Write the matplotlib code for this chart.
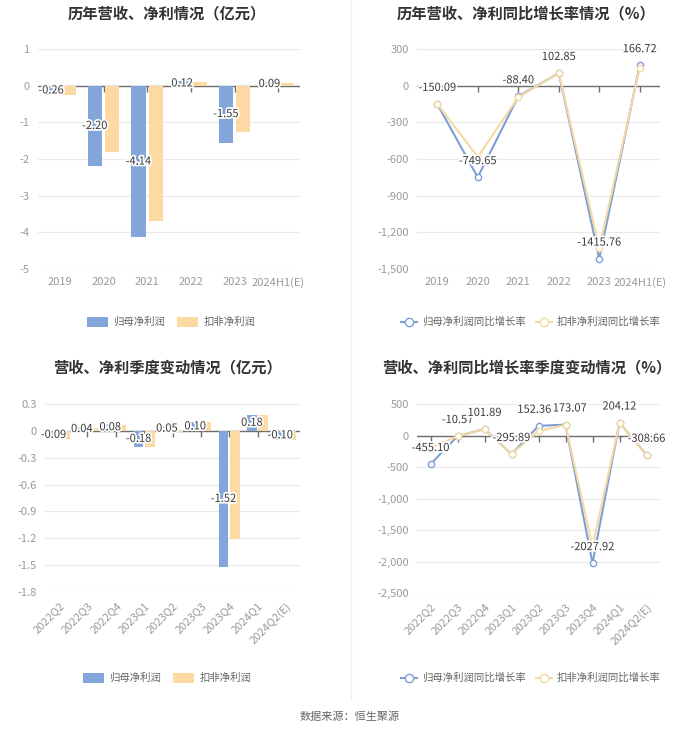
import numpy as np
import matplotlib
matplotlib.use('Agg')
import matplotlib.pyplot as plt
import matplotlib.patheffects as pe
from matplotlib.lines import Line2D

plt.rcParams['font.family'] = ['Noto Sans CJK SC', 'DejaVu Sans']
plt.rcParams['axes.unicode_minus'] = False

# dane
years = ['2019', '2020', '2021', '2022', '2023', '2024H1(E)']
profit_year = [-0.26, -2.20, -4.14, 0.12, -1.55, 0.09]
deduct_year = [-0.26, -1.82, -3.69, 0.10, -1.27, 0.07]
growth_year = [-150.09, -749.65, -88.40, 102.85, -1415.76, 166.72]
dgrowth_year = [-150.0, -583.0, -95.0, 104.0, -1328.0, 145.0]

quarters = ['2022Q2', '2022Q3', '2022Q4', '2023Q1', '2023Q2', '2023Q3',
            '2023Q4', '2024Q1', '2024Q2(E)']
profit_q = [-0.09, 0.04, 0.08, -0.18, 0.05, 0.10, -1.52, 0.18, -0.10]
deduct_q = [-0.09, 0.03, 0.06, -0.18, -0.01, 0.10, -1.21, 0.18, -0.10]
growth_q = [-455.10, -10.57, 101.89, -295.89, 152.36, 173.07, -2027.92, 204.12, -308.66]
dgrowth_q = [-197.0, -10.0, 96.0, -293.0, 70.0, 170.0, -1766.0, 202.0, -315.0]

BLUE = '#82a5da'
ORANGE = '#fdd9a3'
LBLUE = '#7d9fd6'
LORANGE = '#f5d9a2'
GRID = '#e9e9e9'
TICK = '#9a9a9a'
TXT = '#3a3a3a'

W, H = 700, 734
fig = plt.figure(figsize=(W / 100, H / 100), dpi=100)


def px_axes(l, t, r, b):
    return fig.add_axes([l / W, 1 - b / H, (r - l) / W, (b - t) / H])


def style(ax, yticks, fmt, cats, rotate=False):
    ax.set_yticks(yticks)
    ax.set_yticklabels([fmt(v) for v in yticks])
    ax.set_ylim(yticks[0], yticks[-1])
    ax.set_xlim(-0.5, len(cats) - 0.5)
    ax.set_xticks(range(len(cats)))
    if rotate:
        ax.set_xticklabels(cats, rotation=45, ha='right', rotation_mode='anchor')
    else:
        ax.set_xticklabels(cats)
    ax.tick_params(length=0, colors=TICK, labelsize=8, pad=6)
    for s in ax.spines.values():
        s.set_visible(False)
    ax.grid(axis='y', color=GRID, linewidth=0.8)
    ax.set_axisbelow(True)
    ax.axhline(0, color='#6e6e6e', linewidth=1, zorder=2)
    ax.plot(range(len(cats)), np.zeros(len(cats)), linestyle='none',
            marker=3, markersize=4, color='#6e6e6e', zorder=2)


stroke = [pe.withStroke(linewidth=2.5, foreground='white')]


def bar_chart(ax, cats, a, b, yticks, fmt, rotate=False):
    x = np.arange(len(cats))
    ax.bar(x - 0.2, a, width=0.33, color=BLUE, label='归母净利润', zorder=3)
    ax.bar(x + 0.2, b, width=0.33, color=ORANGE, label='扣非净利润', zorder=3)
    style(ax, yticks, fmt, cats, rotate)
    for xi, v in zip(x, a):
        ax.text(xi - 0.2, v / 2, f'{v:.2f}', ha='center', va='center',
                fontsize=8, color=TXT, path_effects=stroke, zorder=5)


def line_chart(ax, cats, a, b, yticks, fmt, rotate=False, nudge=None):
    x = np.arange(len(cats))
    ax.plot(x, a, color=LBLUE, linewidth=1.5, marker='o', markersize=4.5,
            markerfacecolor='white', markeredgecolor=LBLUE, zorder=3)
    ax.plot(x, b, color=LORANGE, linewidth=1.5, marker='o', markersize=4.5,
            markerfacecolor='white', markeredgecolor=LORANGE, zorder=4)
    style(ax, yticks, fmt, cats, rotate)
    nudge = nudge or {}
    for i, (xi, v) in enumerate(zip(x, a)):
        ax.annotate(f'{v:.2f}', (xi, v), xytext=(nudge.get(i, 0), 8),
                    textcoords='offset points', ha='center', va='bottom',
                    fontsize=8, color=TXT, path_effects=stroke, zorder=6)


def num(v):
    if abs(v - round(v)) < 1e-9:
        return f'{int(round(v)):,}'
    return f'{v:.1f}'


ax1 = px_axes(38, 49, 300, 269)
bar_chart(ax1, years, profit_year, deduct_year, [-5, -4, -3, -2, -1, 0, 1], num)
ax2 = px_axes(417, 49, 660, 269)
line_chart(ax2, years, growth_year, dgrowth_year,
           [-1500, -1200, -900, -600, -300, 0, 300], num)
ax3 = px_axes(45, 404, 300, 592)
bar_chart(ax3, quarters, profit_q, deduct_q,
          [-1.8, -1.5, -1.2, -0.9, -0.6, -0.3, 0, 0.3], num, rotate=True)
ax4 = px_axes(417, 404, 660, 593)
line_chart(ax4, quarters, growth_q, dgrowth_q,
           [-2500, -2000, -1500, -1000, -500, 0, 500], num, rotate=True,
           nudge={4: -3, 5: 3})

titles = [('历年营收、净利情况（亿元）', 167, 13),
          ('历年营收、净利同比增长率情况（%）', 526, 13),
          ('营收、净利季度变动情况（亿元）', 167, 367),
          ('营收、净利同比增长率季度变动情况（%）', 527, 367)]
for t, x, y in titles:
    fig.text(x / W, 1 - y / H, t, ha='center', va='center', fontsize=11,
             fontweight='bold', color='#333333')

# legendy
for ax, lx, ly in [(ax1, 171, 322), (ax3, 167, 678)]:
    ax.legend(loc='center', bbox_to_anchor=(lx / W, 1 - ly / H),
              bbox_transform=fig.transFigure, ncol=2, frameon=False,
              fontsize=7.5, labelcolor='#666666', handlelength=2.0,
              handleheight=1.1, columnspacing=1.2, handletextpad=0.5)

line_handles = [
    Line2D([], [], color=LBLUE, marker='o', markersize=6, markerfacecolor='white',
           linewidth=1.5),
    Line2D([], [], color=LORANGE, marker='o', markersize=6, markerfacecolor='white',
           linewidth=1.5)]
line_labels = ['归母净利润同比增长率', '扣非净利润同比增长率']
for ax, lx, ly in [(ax2, 531, 322), (ax4, 531, 678)]:
    ax.legend(line_handles, line_labels, loc='center',
              bbox_to_anchor=(lx / W, 1 - ly / H), bbox_transform=fig.transFigure,
              ncol=2, frameon=False, fontsize=7.5, labelcolor='#666666',
              handlelength=1.5, columnspacing=1.0, handletextpad=0.5)

fig.add_artist(Line2D([351 / W, 351 / W], [1 - 700 / H, 1.0],
                      transform=fig.transFigure, color='#f0f0f0', linewidth=1))
fig.text(0.5, 1 - 717 / H, '数据来源：恒生聚源', ha='center', va='center',
         fontsize=8, color='#666666')

fig.savefig('out.png', dpi=100, facecolor='white')
